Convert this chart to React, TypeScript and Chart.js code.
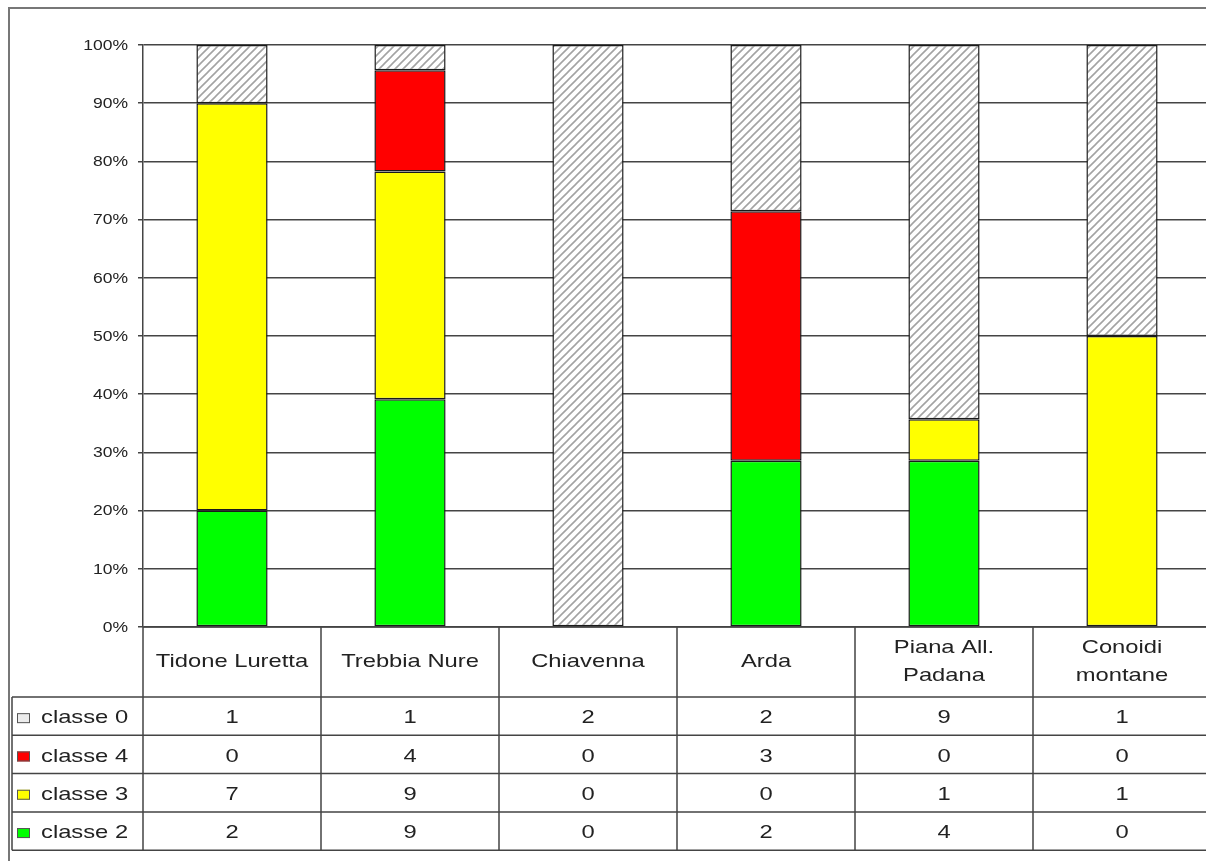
import React, { useEffect, useRef } from "react";
import { Chart, registerables } from "chart.js";
Chart.register(...registerables);

const categoryLines: string[][] = [
  ["Tidone Luretta"],
  ["Trebbia Nure"],
  ["Chiavenna"],
  ["Arda"],
  ["Piana All.", "Padana"],
  ["Conoidi", "montane"],
];
const categories = categoryLines.map((l) => l.join(" "));
const classe0 = [1, 1, 2, 2, 9, 1];
const classe4 = [0, 4, 0, 3, 0, 0];
const classe3 = [7, 9, 0, 0, 1, 1];
const classe2 = [2, 9, 0, 2, 4, 0];
const yTicks = [0, 10, 20, 30, 40, 50, 60, 70, 80, 90, 100];

const totals = categories.map((_, i) => classe0[i] + classe4[i] + classe3[i] + classe2[i]);
const pct = (arr: number[]) => arr.map((v, i) => (totals[i] && v ? (v / totals[i]) * 100 : null));

const FONT = '"Liberation Sans", Arial, sans-serif';
const SX = 1.25;
const TEXT = "#222";
const LINE = "#444";

function makeHatch(): CanvasPattern | string {
  const t = document.createElement("canvas");
  t.width = 8;
  t.height = 8;
  const c = t.getContext("2d");
  if (!c) return "#ddd";
  c.fillStyle = "#ffffff";
  c.fillRect(0, 0, 8, 8);
  c.strokeStyle = "#a3a3a3";
  c.lineWidth = 1.6;
  c.beginPath();
  c.moveTo(0, 8);
  c.lineTo(8, 0);
  c.moveTo(-2, 2);
  c.lineTo(2, -2);
  c.moveTo(6, 10);
  c.lineTo(10, 6);
  c.stroke();
  const p = document.createElement("canvas").getContext("2d")!.createPattern(t, "repeat");
  return p || "#ddd";
}

function drawText(ctx: CanvasRenderingContext2D, s: string, x: number, y: number, size: number, align: "left" | "center" | "right") {
  ctx.save();
  ctx.translate(x, y);
  ctx.scale(SX, 1);
  ctx.font = `${size}px ${FONT}`;
  ctx.fillStyle = TEXT;
  ctx.textAlign = align;
  ctx.textBaseline = "middle";
  ctx.fillText(s, 0, 0);
  ctx.restore();
}

export default function App() {
  const ref = useRef<HTMLCanvasElement | null>(null);
  useEffect(() => {
    const canvas = ref.current;
    if (!canvas) return;
    const hatch = makeHatch();
    const rows = [
      { label: "classe 0", data: classe0, swatch: "#ececec" },
      { label: "classe 4", data: classe4, swatch: "#ff0000" },
      { label: "classe 3", data: classe3, swatch: "#ffff00" },
      { label: "classe 2", data: classe2, swatch: "#00ff00" },
    ];
    const tablePlugin = {
      id: "excelTable",
      afterDraw(chart: any) {
        const ctx: CanvasRenderingContext2D = chart.ctx;
        const ca = chart.chartArea;
        const yS = chart.scales.y;
        const n = categories.length;
        const colW = (ca.right - ca.left) / n;
        const W = chart.width;
        const headerH = 70;
        const rowH = 38.3;
        const tableTop = ca.bottom + headerH;
        const tableBottom = tableTop + rowH * rows.length;
        const tableLeft = 12;

        yTicks.forEach((t) => {
          drawText(ctx, `${t}%`, 128, yS.getPixelForValue(t) + 1, 14, "right");
        });

        ctx.save();
        ctx.strokeStyle = LINE;
        ctx.lineWidth = 1.5;
        ctx.beginPath();
        ctx.moveTo(ca.left, ca.bottom);
        ctx.lineTo(W, ca.bottom);
        for (let r = 0; r <= rows.length; r++) {
          const y = tableTop + r * rowH;
          ctx.moveTo(tableLeft, y);
          ctx.lineTo(W, y);
        }
        for (let i = 0; i <= n; i++) {
          const x = ca.left + i * colW;
          ctx.moveTo(x, ca.bottom);
          ctx.lineTo(x, tableBottom);
        }
        ctx.moveTo(tableLeft, tableTop);
        ctx.lineTo(tableLeft, tableBottom);
        ctx.stroke();

        ctx.strokeStyle = "#777";
        ctx.lineWidth = 2;
        ctx.beginPath();
        ctx.moveTo(9, chart.height);
        ctx.lineTo(9, 8);
        ctx.lineTo(W, 8);
        ctx.stroke();
        ctx.restore();

        categoryLines.forEach((lines, i) => {
          const cx = ca.left + (i + 0.5) * colW;
          const cy = ca.bottom + headerH / 2;
          const lh = 28;
          lines.forEach((s, k) => {
            drawText(ctx, s, cx, cy + (k - (lines.length - 1) / 2) * lh, 19, "center");
          });
        });

        rows.forEach((row, r) => {
          const cy = tableTop + (r + 0.5) * rowH + 2;
          ctx.save();
          ctx.fillStyle = row.swatch;
          ctx.fillRect(17, cy - 5, 13, 10);
          ctx.strokeStyle = "#555";
          ctx.lineWidth = 1;
          ctx.strokeRect(17.5, cy - 4.5, 12, 9);
          ctx.restore();
          drawText(ctx, row.label, 41, cy, 19, "left");
          row.data.forEach((v, i) => {
            const cx = ca.left + (i + 0.5) * colW;
            drawText(ctx, String(v), cx, cy, 19, "center");
          });
        });
      },
    };

    const chart = new Chart(canvas, {
      type: "bar",
      data: {
        labels: categories,
        datasets: [
          { label: "classe 2", data: pct(classe2), backgroundColor: "#00ff00" },
          { label: "classe 3", data: pct(classe3), backgroundColor: "#ffff00" },
          { label: "classe 4", data: pct(classe4), backgroundColor: "#ff0000" },
          { label: "classe 0", data: pct(classe0), backgroundColor: hatch as any },
        ].map((d) => ({
          ...d,
          borderColor: "#1a1a1a",
          borderWidth: 1.5,
          borderSkipped: false as any,
          barPercentage: 0.4,
          categoryPercentage: 1,
        })),
      },
      options: {
        responsive: false,
        animation: false,
        layout: { padding: { left: 138, top: 45, right: 19, bottom: 234 } },
        plugins: { legend: { display: false }, tooltip: { enabled: false } },
        scales: {
          x: { stacked: true, display: false },
          y: {
            stacked: true,
            min: 0,
            max: 100,
            ticks: { display: false, stepSize: 10 },
            grid: { color: LINE, lineWidth: 1.5, drawTicks: true, tickLength: 5 },
            border: { display: true, color: LINE, width: 1.5 },
          },
        },
      },
      plugins: [tablePlugin],
    });
    return () => chart.destroy();
  }, []);

  return (
    <div style={{ position: "fixed", left: 0, top: 0, width: 1206, height: 861, overflow: "hidden", background: "#fff" }}>
      <canvas ref={ref} width={1230} height={861} style={{ width: 1230, height: 861, display: "block" }} />
    </div>
  );
}
